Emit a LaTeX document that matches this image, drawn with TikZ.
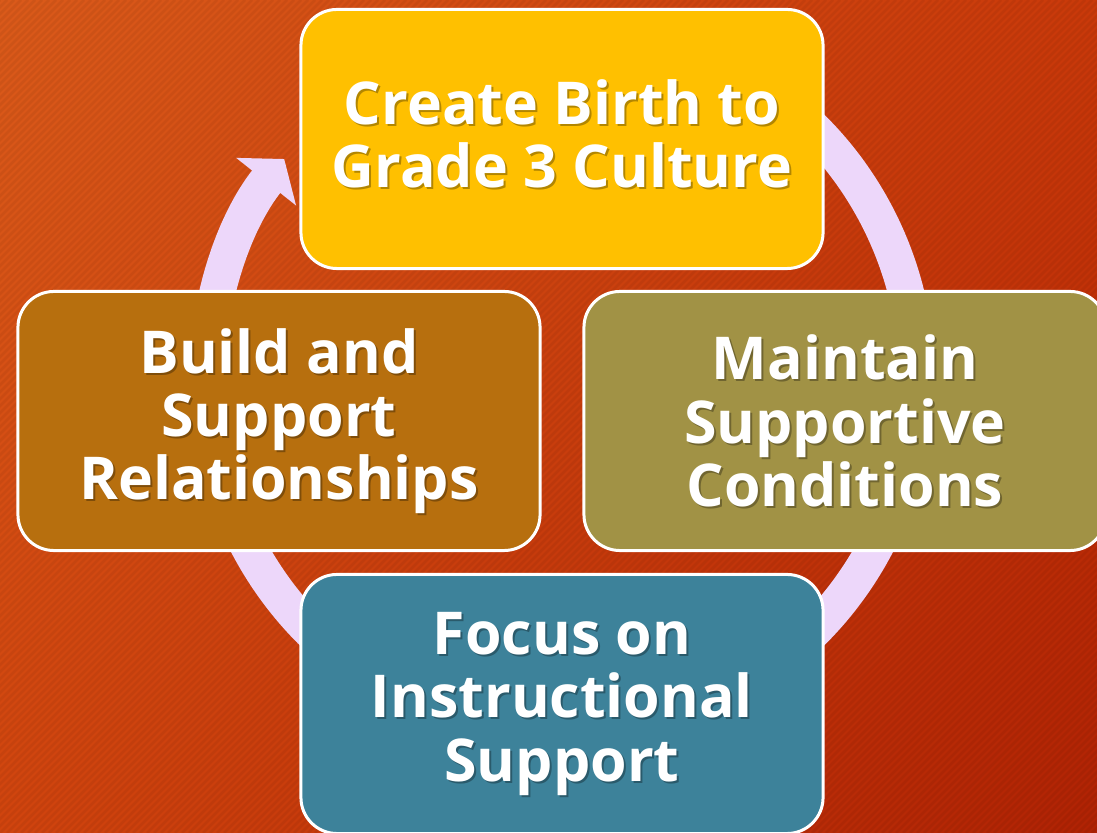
\documentclass[tikz,border=0pt]{standalone}
\usepackage{fontspec}
\setmainfont{Open Sans}
\usetikzlibrary{arrows.meta,positioning,shadings}

\definecolor{bgtopleft}{RGB}{218,90,26}
\definecolor{bgtopright}{RGB}{201,57,10}
\definecolor{bgbottomleft}{RGB}{208,68,14}
\definecolor{bgbottomright}{RGB}{176,34,4}
\definecolor{ringcol}{RGB}{237,215,250}
\definecolor{culturecol}{RGB}{255,192,0}
\definecolor{relationcol}{RGB}{183,111,14}
\definecolor{conditioncol}{RGB}{161,146,69}
\definecolor{instructcol}{RGB}{61,130,154}

\tikzset{
  card/.style={draw=white, line width=0.075cm, rounded corners=0.9cm,
    minimum width=13.05cm, minimum height=6.475cm},
  cardtext/.style={text=white, align=center,
    font=\fontsize{42}{45}\selectfont\bfseries},
  cardshadow/.style={cardtext, text=black, text opacity=0.3},
  ring/.style={draw=ringcol, line width=0.9cm,
    -{Triangle[width=1.875cm,length=0.725cm]}}
}

\begin{document}
\begin{tikzpicture}[x=0.025cm,y=0.025cm]
  \useasboundingbox (0,0) rectangle (1097,833);

  % background with faint diagonal stripes
  \shade[upper left=bgtopleft, upper right=bgtopright,
    lower left=bgbottomleft, lower right=bgbottomright] (0,0) rectangle (1097,833);
  \begin{scope}
    \clip (0,0) rectangle (1097,833);
    \foreach \i in {-840,-833,...,1100}
      \draw[black, opacity=0.05, line width=0.07cm] (\i,0) -- ++(833,833);
  \end{scope}

  % the cycle ring, starts under the top card and ends in a head beside it
  \coordinate (hub) at (562,453);
  \draw[ring] (hub) ++(60:355) arc[start angle=60, end angle=-218.5, radius=355];

  % the four cards (last field lifts the text a little)
  \foreach \name/\pos/\col/\lift/\txt in {
      culture/{(562,694)}/culturecol/5/{Create Birth to\\Grade 3 Culture},
      relations/{(279,412)}/relationcol/0/{Build and\\Support\\Relationships},
      conditions/{(845,412)}/conditioncol/0/{Maintain\\Supportive\\Conditions},
      instruction/{(562,129)}/instructcol/0/{Focus on\\Instructional\\Support}} {
    \node[card, fill=\col] (\name) at \pos {};
    \node[cardshadow] at ([shift={(2,\lift-2)}]\name.center) {\txt};
    \node[cardtext] (\name-label) at ([yshift=\lift*0.025cm]\name.center) {\txt};
  }
\end{tikzpicture}
\end{document}
